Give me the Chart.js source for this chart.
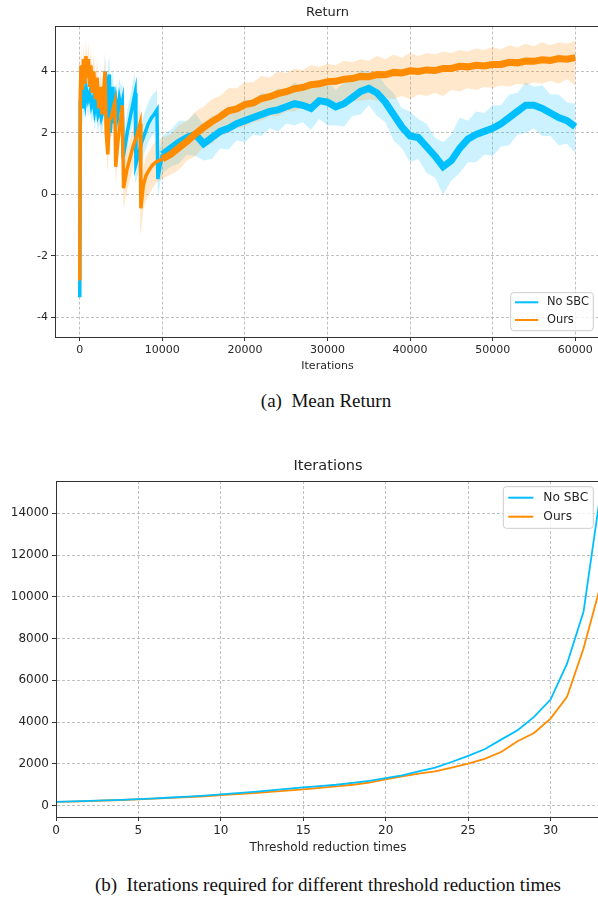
<!DOCTYPE html>
<html lang="en">
<head>
  <meta charset="UTF-8">
  <title>Mean Return / Iterations</title>
  <script src="https://cdn.jsdelivr.net/npm/chart.js"></script>
  <style>
    body { margin: 0; background: #fff; width: 598px; height: 897px; overflow: hidden; position: relative; }
    .panel { position: absolute; left: 0; width: 600px; }
    .caption { position: absolute; font-family: "Liberation Serif", "DejaVu Serif", serif; font-size: 19px; line-height: 22px; color: #111; white-space: pre; transform: translateX(-50%); }
  </style>
</head>
<body>
  <div class="panel" style="top: 0; height: 380px;"><canvas id="returnChart" width="600" height="380"></canvas></div>
  <div class="caption" style="left: 326px; top: 390px;">(a)  Mean Return</div>

  <div class="panel" style="top: 452px; height: 408px;"><canvas id="iterChart" width="600" height="408"></canvas></div>
  <div class="caption" style="left: 328px; top: 874px;">(b)  Iterations required for different threshold reduction times</div>

  <script>
    // ---- data ----
    const seriesNames = ['No SBC', 'Ours'];

    // (a) mean return, No SBC
    const noSbcIter = [0, 60, 200, 350, 500, 650, 800, 1000, 1200, 1400,
      1600, 1800, 2000, 2200, 2400, 2600, 2800, 3000, 3100, 3250,
      3400, 3600, 3700, 3850, 4000, 4200, 4400, 4600, 4800, 5000,
      5150, 5250, 5500, 5800, 6100, 6400, 6700, 6800, 7100, 7500,
      7900, 8300, 8700, 9000, 9350, 9450, 9700, 10000,
      11000, 12000, 13000, 14000, 15000, 16000, 17000, 18000, 19000, 20000,
      21000, 22000, 23000, 24000, 25000, 26000, 27000, 28000, 29000, 30000,
      31000, 32000, 33000, 34000, 35000, 36000, 37000, 38000, 39000, 40000,
      41000, 42000, 43000, 44000, 45000, 46000, 47000, 48000, 49000, 50000,
      51000, 52000, 53000, 54000, 55000, 56000, 57000, 58000, 59000, 60000];
    const noSbcMean = [-3.35, 3.0, 3.3, 2.8, 3.3, 3.0, 3.4, 3.1, 3.3, 2.9,
      3.1, 2.7, 3.0, 2.6, 2.8, 2.5, 2.7, 3.2, 4.0, 2.3,
      3.6, 3.9, 2.0, 2.8, 3.5, 2.3, 3.0, 2.6, 3.1, 2.8,
      3.0, 1.2, 1.6, 2.1, 2.5, 2.9, 3.3, 1.0, 1.3, 1.7,
      2.0, 2.3, 2.5, 2.6, 2.75, 0.5, 0.9, 1.3,
      1.5, 1.7, 1.85, 1.95, 1.65, 1.85, 2.05, 2.15, 2.3, 2.4,
      2.5, 2.6, 2.7, 2.75, 2.85, 2.95, 2.9, 2.8, 3.05, 3.0,
      2.85, 2.95, 3.15, 3.35, 3.45, 3.3, 3.0, 2.6, 2.2, 1.9,
      1.85, 1.55, 1.25, 0.9, 1.1, 1.5, 1.8, 1.95, 2.05, 2.15,
      2.3, 2.5, 2.7, 2.9, 2.9, 2.8, 2.65, 2.5, 2.4, 2.2];
    const noSbcLow = [-4.2, 2.5, 2.7, 2.2, 2.8, 2.4, 2.9, 2.5, 2.8, 2.3,
      2.6, 2.1, 2.5, 2.0, 2.3, 1.9, 2.2, 2.6, 3.3, 1.7,
      2.9, 3.2, 1.4, 2.2, 2.8, 1.7, 2.4, 2.0, 2.5, 2.2,
      2.4, 0.6, 1.0, 1.5, 1.9, 2.3, 2.7, 0.4, 0.7, 1.1,
      1.4, 1.7, 1.9, 2.0, 2.1, -0.1, 0.3, 0.7,
      0.9, 1.0, 1.3, 1.25, 1.1, 1.15, 1.5, 1.45, 1.75, 1.7,
      1.95, 1.9, 2.15, 2.05, 2.3, 2.25, 2.35, 2.1, 2.45, 2.25,
      2.25, 2.2, 2.55, 2.6, 2.9, 2.55, 2.35, 1.75, 1.5, 1.05,
      1.15, 0.7, 0.55, 0.0, 0.45, 0.7, 1.05, 1.05, 1.3, 1.25,
      1.55, 1.6, 1.95, 2.0, 2.15, 1.9, 1.9, 1.6, 1.65, 1.35];
    const noSbcHigh = [-2.6, 3.6, 3.9, 3.4, 3.9, 3.6, 4.0, 3.7, 3.9, 3.6,
      3.7, 3.4, 3.6, 3.3, 3.5, 3.2, 3.4, 3.9, 4.6, 3.0,
      4.2, 4.5, 2.7, 3.5, 4.1, 3.0, 3.7, 3.3, 3.8, 3.5,
      3.7, 1.9, 2.3, 2.8, 3.2, 3.6, 4.0, 1.7, 2.0, 2.4,
      2.7, 3.0, 3.2, 3.3, 3.4, 1.1, 1.5, 1.9,
      2.1, 2.4, 2.4, 2.65, 2.25, 2.55, 2.6, 2.85, 2.85, 3.1,
      3.05, 3.3, 3.25, 3.45, 3.4, 3.65, 3.45, 3.55, 3.6, 3.7,
      3.4, 3.65, 3.7, 4.05, 4.0, 3.95, 3.55, 3.3, 2.8, 2.7,
      2.45, 2.3, 1.85, 1.7, 1.95, 2.5, 2.4, 2.7, 2.65, 2.9,
      2.9, 3.25, 3.3, 3.65, 3.5, 3.55, 3.25, 3.25, 3.0, 2.95];

    // (a) mean return, Ours
    const oursIter = [0, 60, 150, 300, 450, 600, 750, 900, 1050, 1200,
      1350, 1500, 1700, 1900, 2100, 2300, 2500, 2700, 2900, 3050,
      3200, 3400, 3550, 3800, 4050, 4250, 4350, 4600, 4900, 5150,
      5300, 5700, 6100, 6500, 6900, 7300, 7400, 7700, 8000, 8400,
      8800, 9200, 9600, 10000,
      11000, 12000, 13000, 14000, 15000, 16000, 17000, 18000, 19000, 20000,
      21000, 22000, 23000, 24000, 25000, 26000, 27000, 28000, 29000, 30000,
      31000, 32000, 33000, 34000, 35000, 36000, 37000, 38000, 39000, 40000,
      41000, 42000, 43000, 44000, 45000, 46000, 47000, 48000, 49000, 50000,
      51000, 52000, 53000, 54000, 55000, 56000, 57000, 58000, 59000, 60000];
    const oursMean = [-2.8, 3.2, 4.2, 3.4, 4.4, 3.6, 4.5, 3.8, 4.4, 3.5,
      4.2, 3.3, 4.0, 3.1, 3.8, 2.8, 3.5, 2.6, 3.4, 4.0,
      2.0, 1.3, 2.4, 2.5, 2.8, 3.0, 0.9, 1.7, 2.3, 2.9,
      0.2, 0.8, 1.2, 1.6, 1.9, 2.3, -0.45, 0.3, 0.6, 0.8,
      0.95, 1.05, 1.1, 1.15,
      1.3, 1.52, 1.73, 1.97, 2.18, 2.37, 2.53, 2.72, 2.78, 2.92,
      2.98, 3.12, 3.18, 3.28, 3.34, 3.44, 3.48, 3.57, 3.6, 3.67,
      3.68, 3.75, 3.77, 3.84, 3.83, 3.9, 3.89, 3.97, 3.95, 4.02,
      4.0, 4.05, 4.03, 4.1, 4.1, 4.17, 4.15, 4.2, 4.18, 4.23,
      4.23, 4.3, 4.28, 4.34, 4.33, 4.38, 4.36, 4.42, 4.4, 4.45];
    const oursLow = [-3.0, 2.6, 3.6, 2.8, 3.9, 3.0, 4.0, 3.2, 3.9, 2.9,
      3.6, 2.7, 3.4, 2.5, 3.2, 2.2, 2.9, 2.0, 2.8, 3.4,
      1.4, 0.7, 1.8, 1.9, 2.2, 2.4, 0.3, 1.1, 1.7, 2.3,
      -0.5, 0.1, 0.5, 0.9, 1.2, 1.6, -1.25, -0.5, -0.2, 0.0,
      0.2, 0.35, 0.45, 0.5,
      0.65, 0.8, 1.1, 1.25, 1.55, 1.65, 1.9, 2.0, 2.15, 2.2,
      2.35, 2.4, 2.55, 2.55, 2.7, 2.7, 2.85, 2.85, 2.95, 2.9,
      3.0, 2.95, 3.05, 3.05, 3.1, 3.05, 3.15, 3.1, 3.2, 3.1,
      3.25, 3.2, 3.3, 3.2, 3.4, 3.35, 3.45, 3.4, 3.5, 3.45,
      3.55, 3.5, 3.6, 3.55, 3.65, 3.6, 3.7, 3.6, 3.75, 3.55];
    const oursHigh = [-2.5, 3.8, 4.8, 4.0, 4.9, 4.2, 5.0, 4.4, 4.9, 4.1,
      4.8, 3.9, 4.6, 3.7, 4.4, 3.4, 4.1, 3.2, 4.0, 4.6,
      2.6, 1.9, 3.0, 3.1, 3.4, 3.6, 1.5, 2.3, 2.9, 3.5,
      0.8, 1.4, 1.8, 2.2, 2.5, 2.9, 0.2, 0.9, 1.2, 1.4,
      1.6, 1.75, 1.8, 1.85,
      1.95, 2.25, 2.4, 2.7, 2.85, 3.1, 3.2, 3.45, 3.45, 3.65,
      3.65, 3.85, 3.8, 4.0, 3.95, 4.1, 4.05, 4.2, 4.15, 4.25,
      4.2, 4.35, 4.3, 4.4, 4.35, 4.5, 4.4, 4.55, 4.45, 4.6,
      4.5, 4.6, 4.55, 4.65, 4.6, 4.7, 4.65, 4.75, 4.7, 4.8,
      4.72, 4.85, 4.78, 4.9, 4.82, 4.95, 4.85, 4.95, 4.9, 5.0];

    const returnXTicks = [0, 10000, 20000, 30000, 40000, 50000, 60000];
    const returnYTicks = [-4, -2, 0, 2, 4];

    // (b) iterations needed per threshold reduction
    const reductionTimes = [0, 1, 2, 3, 4, 5, 6, 7, 8, 9, 10, 11, 12, 13, 14, 15, 16,
      17, 18, 19, 20, 21, 22, 23, 24, 25, 26, 27, 28, 29, 30, 31, 32, 33];
    const noSbcIters = [180, 200, 225, 250, 280, 315, 350, 390, 435, 480, 540, 600, 660, 730, 800, 870, 930,
      1000, 1090, 1190, 1320, 1450, 1640, 1820, 2090, 2380, 2700, 3160, 3610, 4250, 5080, 6800, 9280, 14800];
    const oursIters = [180, 195, 220, 245, 270, 300, 335, 370, 410, 450, 500, 550, 600, 660, 720, 780, 850,
      920, 1000, 1100, 1260, 1400, 1530, 1640, 1820, 2010, 2240, 2570, 3080, 3480, 4170, 5210, 7530, 10450];

    const iterXTicks = [0, 5, 10, 15, 20, 25, 30];
    const iterYTicks = [0, 2000, 4000, 6000, 8000, 10000, 12000, 14000];

    // ---- styling ----
    const BLUE = '#00bfff';
    const ORANGE = '#ff8c00';
    Chart.defaults.font.family = '"DejaVu Sans", sans-serif';

    const pts = (xs, ys) => xs.map((x, i) => ({ x: x, y: ys[i] }));

    function makeScale(o) {
      return {
        type: 'linear',
        min: o.min,
        max: o.max,
        afterBuildTicks: s => { s.ticks = o.ticks.map(v => ({ value: v })); },
        afterFit: s => { if (o.horizontal) s.height = o.size; else s.width = o.size; },
        ticks: { font: { size: o.font }, color: '#262626', padding: 3, maxRotation: 0, autoSkip: false, callback: v => String(v) },
        grid: { color: '#b0b0b0', lineWidth: 0.8, tickLength: 4, tickColor: '#333', tickWidth: 1 },
        border: { color: '#333', width: 1, dash: [3, 2] },
        title: o.title
          ? { display: true, text: o.title, font: { size: o.font }, color: '#262626', padding: { top: 0, bottom: o.titlePad } }
          : { display: false }
      };
    }

    // black box round the plot, like matplotlib spines
    const frame = {
      id: 'frame',
      afterDatasetsDraw(chart) {
        const { ctx, chartArea: a } = chart;
        const l = Math.round(a.left + 0.5) - 0.5, t = Math.round(a.top + 0.5) - 0.5;
        const r = Math.round(a.right + 0.5) - 0.5, b = Math.round(a.bottom + 0.5) - 0.5;
        ctx.save();
        ctx.strokeStyle = '#333';
        ctx.lineWidth = 1;
        ctx.strokeRect(l, t, r - l, b - t);
        ctx.restore();
      }
    };

    // legend box drawn inside the plot area
    const boxLegend = {
      id: 'boxLegend',
      afterDraw(chart, args, o) {
        const { ctx, chartArea: a } = chart;
        const left = a.right - o.right - o.width;
        const top = o.fromBottom ? a.bottom - o.offset - o.height : a.top + o.offset;
        ctx.save();
        ctx.beginPath();
        if (ctx.roundRect) ctx.roundRect(left, top, o.width, o.height, 3);
        else ctx.rect(left, top, o.width, o.height);
        ctx.fillStyle = 'rgba(255,255,255,0.8)';
        ctx.fill();
        ctx.strokeStyle = '#cccccc';
        ctx.lineWidth = 1;
        ctx.stroke();
        ctx.font = o.font + 'px "DejaVu Sans"';
        ctx.textBaseline = 'middle';
        [BLUE, ORANGE].forEach((c, i) => {
          const y = top + o.rows[i];
          ctx.strokeStyle = c;
          ctx.lineWidth = 2;
          ctx.beginPath();
          ctx.moveTo(left + o.lineFrom, y);
          ctx.lineTo(left + o.lineTo, y);
          ctx.stroke();
          ctx.fillStyle = '#262626';
          ctx.fillText(seriesNames[i], left + o.textAt, y);
        });
        ctx.restore();
      }
    };

    const band = (data, color, fill) => ({
      data: data, borderColor: 'transparent', borderWidth: 0, pointRadius: 0,
      backgroundColor: color, fill: fill, tension: 0
    });

    // thin through the early sawtooth, thick noisy ribbon afterwards
    const ribbon = { borderWidth: c => (c.p0.parsed.x < 10000 ? 3.5 : 7) };

    // (a) Return
    new Chart(document.getElementById('returnChart'), {
      type: 'line',
      data: {
        datasets: [
          { label: seriesNames[1], data: pts(oursIter, oursMean), borderColor: ORANGE, borderWidth: 4, segment: ribbon, pointRadius: 0, fill: false, tension: 0 },
          { label: seriesNames[0], data: pts(noSbcIter, noSbcMean), borderColor: BLUE, borderWidth: 4, segment: ribbon, pointRadius: 0, fill: false, tension: 0 },
          band(pts(oursIter, oursHigh), 'rgba(255,140,0,0.2)', '+1'),
          band(pts(oursIter, oursLow), 'rgba(255,140,0,0.2)', false),
          band(pts(noSbcIter, noSbcHigh), 'rgba(0,191,255,0.2)', '+1'),
          band(pts(noSbcIter, noSbcLow), 'rgba(0,191,255,0.2)', false)
        ]
      },
      options: {
        responsive: false,
        animation: false,
        events: [],
        scales: {
          x: makeScale({ min: -3000, max: 63000, ticks: returnXTicks, horizontal: true, size: 43, font: 11, title: 'Iterations', titlePad: 7 }),
          y: makeScale({ min: -4.64, max: 5.46, ticks: returnYTicks, size: 55, font: 11 })
        },
        plugins: {
          legend: { display: false },
          tooltip: { enabled: false },
          title: { display: true, text: 'Return', fullSize: false, color: '#262626', font: { size: 13, weight: 'normal' }, padding: { top: 5, bottom: 6 } },
          boxLegend: { fromBottom: true, offset: 6.3, right: 6.7, width: 82.6, height: 38, rows: [9.6, 27.3], lineFrom: 4.3, lineTo: 27.6, textAt: 36.3, font: 11.4 }
        }
      },
      plugins: [frame, boxLegend]
    });

    // (b) Iterations
    new Chart(document.getElementById('iterChart'), {
      type: 'line',
      data: {
        datasets: [
          { label: seriesNames[0], data: pts(reductionTimes, noSbcIters), borderColor: BLUE, borderWidth: 1.8, pointRadius: 0, fill: false, tension: 0 },
          { label: seriesNames[1], data: pts(reductionTimes, oursIters), borderColor: ORANGE, borderWidth: 1.8, pointRadius: 0, fill: false, tension: 0 }
        ]
      },
      options: {
        responsive: false,
        animation: false,
        events: [],
        scales: {
          x: makeScale({ min: 0, max: 33, ticks: iterXTicks, horizontal: true, size: 43, font: 12, title: 'Threshold reduction times', titlePad: 5 }),
          y: makeScale({ min: -545, max: 15549, ticks: iterYTicks, size: 56, font: 12 })
        },
        plugins: {
          legend: { display: false },
          tooltip: { enabled: false },
          title: { display: true, text: 'Iterations', fullSize: false, color: '#262626', font: { size: 14.5, weight: 'normal' }, padding: { top: 6, bottom: 5.6 } },
          boxLegend: { fromBottom: false, offset: 5.7, right: 6.7, width: 90, height: 41.6, rows: [11, 30], lineFrom: 5, lineTo: 30, textAt: 40, font: 12.2 }
        }
      },
      plugins: [frame, boxLegend]
    });
  </script>
</body>
</html>
